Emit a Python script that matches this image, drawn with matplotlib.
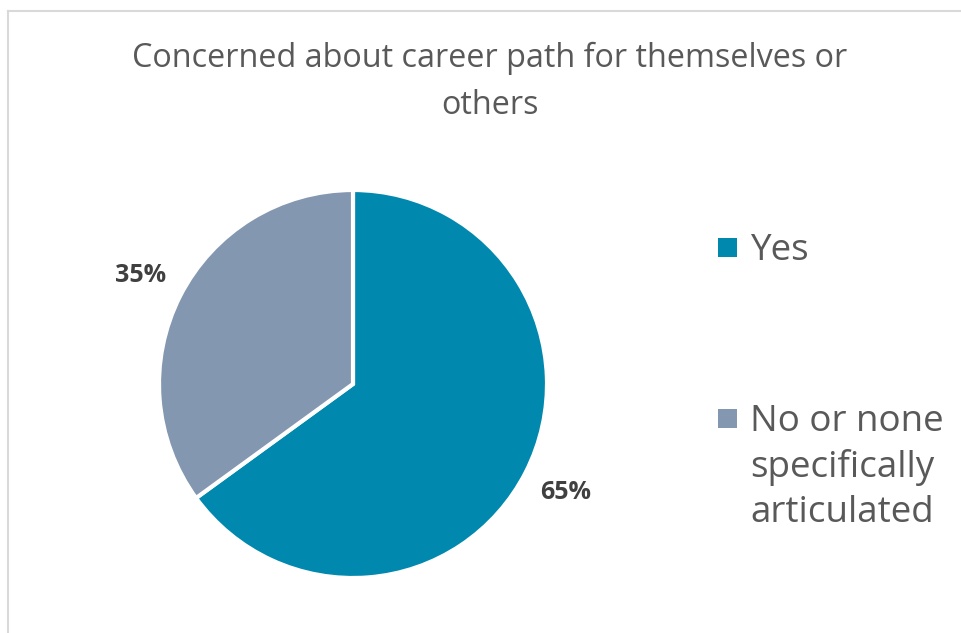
import matplotlib

matplotlib.use("Agg")
import matplotlib.pyplot as plt
from matplotlib.patches import Rectangle
from matplotlib.lines import Line2D

plt.rcParams["font.family"] = ["Open Sans", "DejaVu Sans"]

TITLE = "Concerned about career path for themselves or\nothers"
categories = ["Yes", "No or none\nspecifically\narticulated"]
shares = [65, 35]
colors = ["#0088AE", "#8497B0"]

TEXT = "#595959"
W, H = 961, 633

fig = plt.figure(figsize=(W / 100, H / 100), dpi=100)
fig.patch.set_facecolor("white")

# thin grey frame along the top and left edges
fig.add_artist(Line2D([8 / W, 8 / W], [0, 1 - 11 / H], transform=fig.transFigure,
                      color="#d9d9d9", linewidth=1.5))
fig.add_artist(Line2D([8 / W, 1], [1 - 11 / H, 1 - 11 / H], transform=fig.transFigure,
                      color="#d9d9d9", linewidth=1.5))

fig.text(490 / W, 1 - 82 / H, TITLE, ha="center", va="center", fontsize=23.3,
         color=TEXT, linespacing=1.55)

# pie centred at (353, 384) px with radius 194 px
cx, cy, r = 353, 384, 194
ax = fig.add_axes([(cx - r) / W, (H - cy - r) / H, 2 * r / W, 2 * r / H])
wedges, _, autotexts = ax.pie(
    shares,
    colors=colors,
    startangle=90,
    counterclock=False,
    autopct="%d%%",
    pctdistance=1.23,
    wedgeprops=dict(edgecolor="white", linewidth=3),
    textprops=dict(fontsize=18, fontweight="bold", color="#404040"),
)
ax.set_aspect("equal")
ax.set_xlim(-1, 1)
ax.set_ylim(-1, 1)

# legend on the right: square swatch followed by label
legend_y = [247, 418]
for label, color, y in zip(categories, colors, legend_y):
    fig.add_artist(Rectangle((718 / W, (H - y - 9.5) / H), 19 / W, 19 / H,
                             transform=fig.transFigure, facecolor=color,
                             edgecolor="none"))
    fig.text(750 / W, 1 - (y - 14) / H, label, ha="left", va="top", fontsize=26.5,
             color=TEXT, linespacing=1.32)

fig.savefig("out.png", dpi=100)
